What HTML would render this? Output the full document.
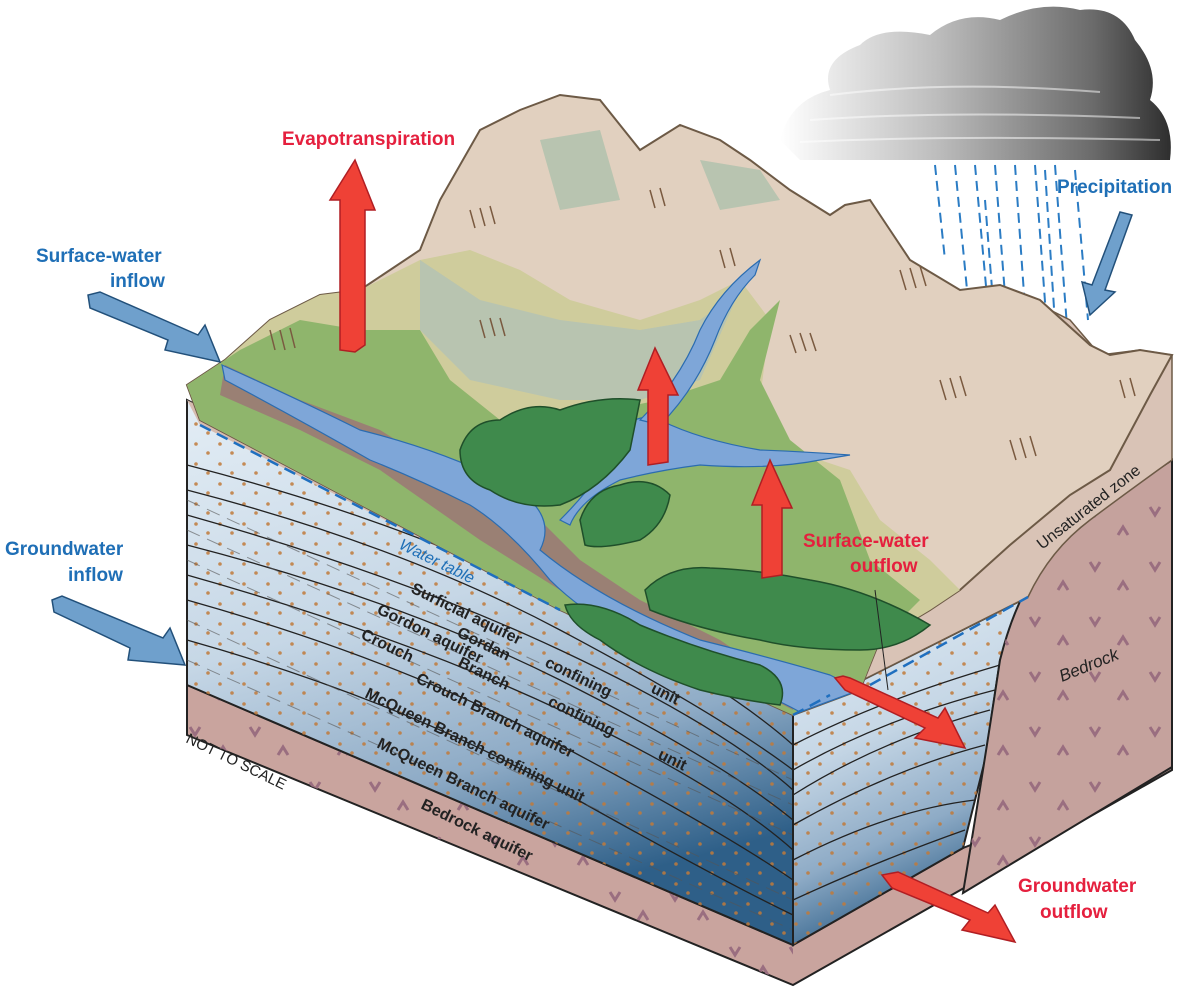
<!DOCTYPE html>
<html><head><meta charset="utf-8"><style>
html,body{margin:0;padding:0;background:#fff}
svg{display:block}
.l{font-family:"Liberation Sans Narrow","Liberation Sans",sans-serif;font-weight:bold;font-size:19px}
.k{font-family:"Liberation Sans Narrow","Liberation Sans",sans-serif;font-weight:bold;font-size:16px;fill:#222}
</style></head><body>
<svg width="1192" height="995" viewBox="0 0 1192 995">
<defs>
<linearGradient id="wat" x1="0" y1="0" x2="0.3" y2="1">
<stop offset="0" stop-color="#e3edf5"/><stop offset="0.45" stop-color="#c6d7e6"/><stop offset="0.75" stop-color="#8eabc6"/><stop offset="1" stop-color="#2e5f88"/></linearGradient>
<linearGradient id="cl" x1="0" y1="0" x2="1" y2="0">
<stop offset="0" stop-color="#fff"/><stop offset="0.4" stop-color="#bdbdbd"/><stop offset="0.8" stop-color="#6b6b6b"/><stop offset="1" stop-color="#2e2e2e"/></linearGradient>
<pattern id="dots" width="24" height="20" patternUnits="userSpaceOnUse">
<circle cx="4" cy="4" r="1.8" fill="#c07a3a"/><circle cx="16" cy="13" r="1.8" fill="#c07a3a"/></pattern>
<pattern id="v" width="60" height="55" patternUnits="userSpaceOnUse">
<path d="M10 12 l5 8 l5 -8" fill="none" stroke="#9a6e80" stroke-width="3"/><path d="M38 40 l5 -8 l5 8" fill="none" stroke="#9a6e80" stroke-width="3"/></pattern>
</defs>

<!-- cloud -->
<path d="M780 140 Q790 100 830 90 Q820 60 860 45 Q880 25 930 35 Q960 10 1000 20 Q1040 0 1080 10 Q1120 5 1135 40 Q1160 70 1150 100 Q1175 120 1170 160 L800 160 Z" fill="url(#cl)"/>
<g fill="none" stroke="#fff" stroke-width="2" opacity="0.5">
<path d="M830 95 Q950 80 1100 92"/><path d="M810 120 Q950 110 1140 118"/><path d="M800 142 Q950 135 1160 140"/>
</g>
<!-- rain -->
<g stroke="#2b7cc4" stroke-width="2" stroke-dasharray="10 6">
<line x1="935" y1="165" x2="945" y2="260"/><line x1="955" y1="165" x2="968" y2="300"/><line x1="975" y1="165" x2="990" y2="330"/><line x1="995" y1="165" x2="1010" y2="360"/><line x1="1015" y1="165" x2="1030" y2="380"/><line x1="1035" y1="165" x2="1050" y2="370"/><line x1="1055" y1="165" x2="1068" y2="340"/><line x1="1075" y1="170" x2="1088" y2="320"/><line x1="1045" y1="170" x2="1060" y2="400"/><line x1="985" y1="200" x2="1000" y2="390"/>
</g>

<!-- bottom bedrock layer -->
<polygon points="187,685 793,945 963,848 1172,767 1172,770 793,985 187,735" fill="#c9a49e" stroke="#222" stroke-width="2"/>
<polygon points="187,685 793,945 793,985 187,735" fill="url(#v)"/>
<!-- left face water -->
<polygon points="187,400 793,715 793,945 187,685" fill="url(#wat)" stroke="#222" stroke-width="2"/>
<polygon points="187,400 793,715 793,945 187,685" fill="url(#dots)" opacity="0.85"/>
<polygon points="187,400 793,715 560,610 200,425" fill="#d6bcb0"/>
<g fill="none" stroke="#222" stroke-width="1.3">
<path d="M187 465 Q400 520 560 600 T793 745"/>
<path d="M187 490 Q400 545 560 630 T793 770"/>
<path d="M187 515 Q400 575 560 650 T793 790"/>
<path d="M187 545 Q400 600 560 680 T793 820"/>
<path d="M187 575 Q400 635 560 710 T793 850"/>
<path d="M187 600 Q400 660 560 745 T793 880"/>
<path d="M187 640 Q400 700 560 790 T793 915"/>
</g>
<g stroke="#555" stroke-width="1" stroke-dasharray="14 8" opacity="0.6">
<path d="M187 500 L793 780"/><path d="M187 530 L793 805"/><path d="M187 560 L793 835"/><path d="M187 620 L793 900"/><path d="M187 660 L793 930"/>
</g>
<!-- right face -->
<polygon points="793,715 1028,597 1000,660 985,760 963,848 793,945" fill="url(#wat)" stroke="#222" stroke-width="2"/>
<polygon points="793,715 1028,597 1000,660 985,760 963,848 793,945" fill="url(#dots)" opacity="0.85"/>
<g fill="none" stroke="#222" stroke-width="1.3">
<path d="M793 745 Q880 700 1000 665"/><path d="M793 770 Q880 720 995 690"/><path d="M793 795 Q880 740 990 710"/><path d="M793 825 Q890 770 985 745"/><path d="M793 860 Q890 810 975 800"/><path d="M793 900 Q880 860 965 830"/>
</g>
<path d="M963 893 Q985 760 1000 660 Q1020 580 1060 545 Q1110 500 1172 460 L1172 767 Z" fill="#c5a29d" stroke="#222" stroke-width="2"/>
<path d="M963 893 Q985 760 1000 660 Q1020 580 1060 545 Q1110 500 1172 460 L1172 767 Z" fill="url(#v)"/>
<path d="M793 715 L1028 597 Q1050 550 1090 520 Q1130 490 1172 460 L1172 355 L1140 350 L1100 355 L1070 320 L1010 290 L960 330 L900 400 L860 500 L830 600 Z" fill="#d9c3b6" stroke="#6d5a46" stroke-width="1.5"/>

<!-- landscape -->
<path d="M187 385 L225 360 L270 320 L320 295 L360 290 L420 250 L440 200 L480 130 L520 110 L560 95 L600 100 L640 150 L680 125 L720 140 L750 160 L790 190 L830 215 L845 205 L870 200 L910 260 L960 290 L1000 285 L1040 300 L1090 345 L1110 355 L1140 350 L1172 355 L1150 395 L1110 470 L1070 495 L1010 545 L960 590 L930 610 L880 640 L860 690 L793 715 L560 610 L200 420 Z" fill="#e1d0bf" stroke="#6d5a46" stroke-width="2"/>
<path d="M187 385 L225 360 L270 320 L320 295 L360 290 L420 260 L470 250 L520 270 L570 300 L640 320 L700 300 L740 280 L770 320 L760 400 L790 450 L850 470 L880 520 L930 560 L960 590 L930 610 L880 640 L860 690 L793 715 L560 610 L200 420 Z" fill="#cfcc9c"/>
<path d="M187 385 L240 350 L300 320 L360 330 L420 330 L450 380 L500 420 L560 430 L610 410 L660 400 L720 380 L750 330 L780 300 L760 380 L790 440 L840 480 L870 560 L920 600 L880 640 L860 690 L793 715 L560 610 L200 420 Z" fill="#8fb56c"/>
<path d="M420 260 L480 300 L560 320 L640 330 L700 320 L740 290 L700 380 L640 400 L560 400 L470 380 L420 330 Z" fill="#b8c4b0"/>
<path d="M540 140 L600 130 L620 200 L560 210 Z M700 160 L760 170 L780 200 L720 210 Z" fill="#b8c4b0"/>
<path d="M225 365 L300 400 L380 430 L460 480 L540 520 L580 560 L640 600 L720 640 L793 690 L793 710 L640 630 L560 590 L480 540 L380 470 L300 430 L220 395 Z" fill="#9a8074"/>
<path d="M222 365 Q300 400 360 430 Q440 450 500 480 Q560 510 540 550 Q600 600 700 640 Q780 660 830 675 L860 690 L800 712 Q760 690 700 670 Q600 630 550 580 Q510 530 470 505 Q420 480 370 460 Q300 420 225 380 Z" fill="#7ea6d8" stroke="#2b6cb0" stroke-width="1.2"/>
<path d="M560 520 Q600 480 620 440 Q630 410 660 420 Q700 440 760 450 Q810 452 850 455 L820 460 Q770 470 700 465 Q660 470 620 480 Q580 500 570 525 Z" fill="#7ea6d8" stroke="#2b6cb0" stroke-width="1.2"/>
<path d="M640 420 Q680 380 700 330 Q720 290 760 260 L755 275 Q730 300 715 340 Q695 390 660 425 Z" fill="#7ea6d8" stroke="#2b6cb0" stroke-width="1.2"/>
<g fill="#3f8a4c" stroke="#1f4f2a" stroke-width="1.5">
<path d="M460 450 Q470 420 500 420 Q530 400 560 410 Q600 395 640 400 L630 450 Q600 490 560 505 Q520 510 490 490 Q460 480 460 450 Z"/>
<path d="M580 520 Q590 490 620 485 Q650 475 670 495 Q665 525 640 540 Q600 550 585 545 Z"/>
<path d="M645 590 Q670 565 710 568 Q760 570 810 580 Q870 590 930 625 Q900 650 860 650 Q800 650 760 640 Q700 630 650 610 Z"/>
<path d="M565 605 Q600 600 640 625 Q700 650 760 665 Q790 680 780 705 Q740 700 700 690 Q640 670 600 640 Q570 625 565 605 Z"/>
</g>
<g stroke="#7a5a40" stroke-width="1.5">
<path d="M270 330 l5 20 M280 330 l5 20 M290 328 l5 20 M480 320 l5 18 M490 318 l5 18 M500 318 l5 18 M790 335 l6 18 M800 333 l6 18 M810 333 l6 18 M940 380 l6 20 M950 378 l6 20 M960 376 l6 20 M1010 440 l6 20 M1020 438 l6 20 M1030 436 l6 20 M900 270 l6 20 M910 268 l6 20 M920 266 l6 20 M720 250 l5 18 M730 248 l5 18 M1120 380 l5 18 M1130 378 l5 18 M470 210 l5 18 M480 208 l5 18 M490 206 l5 18 M650 190 l5 18 M660 188 l5 18"/>
</g>
<g fill="none" stroke="#1f6fbf" stroke-width="2.5" stroke-dasharray="12 7">
<path d="M200 425 L560 610"/><path d="M793 715 L830 695"/><path d="M870 685 L1028 597"/>
</g>
<line x1="875" y1="590" x2="888" y2="690" stroke="#222" stroke-width="1"/>

<g fill="#ef4136" stroke="#b01e23" stroke-width="1.5">
<polygon points="340,350 340,200 330,200 355,160 375,210 365,210 365,345 355,352"/>
<polygon points="648,465 648,390 638,390 655,348 678,395 668,395 668,462"/>
<polygon points="762,578 762,505 752,505 770,460 792,508 782,508 782,575"/>
<polygon points="835,678 845,690 925,728 915,738 965,748 945,708 938,718 850,678 843,676"/>
<polygon points="882,875 892,888 970,920 962,930 1015,942 995,905 988,913 898,872"/>
</g>
<g fill="#6fa0cc" stroke="#22507a" stroke-width="1.5">
<polygon points="88,295 90,308 168,340 165,350 220,362 205,325 198,335 100,292"/>
<polygon points="52,600 54,612 130,648 128,660 185,665 170,628 163,638 62,596"/>
<polygon points="1120,212 1132,215 1105,290 1115,292 1090,315 1082,282 1092,285"/>
</g>

<g class="l">
<text x="282" y="145" fill="#e5203e">Evapotranspiration</text>
<text x="1057" y="193" fill="#1f6fb6">Precipitation</text>
<text x="36" y="262" fill="#1f6fb6">Surface-water</text>
<text x="110" y="287" fill="#1f6fb6">inflow</text>
<text x="5" y="555" fill="#1f6fb6">Groundwater</text>
<text x="68" y="581" fill="#1f6fb6">inflow</text>
<text x="803" y="547" fill="#e5203e">Surface-water</text>
<text x="850" y="572" fill="#e5203e">outflow</text>
<text x="1018" y="892" fill="#e5203e">Groundwater</text>
<text x="1040" y="918" fill="#e5203e">outflow</text>
</g>
<g class="k">
<text transform="translate(398,548) rotate(26)" style="font-weight:normal;font-style:italic;fill:#1f6fb6">Water table</text>
<text transform="translate(410,592) rotate(26)">Surficial aquifer</text>
<text transform="translate(376,613) rotate(26)">Gordon aquifer</text>
<text transform="translate(456,636) rotate(26)">Gordan</text>
<text transform="translate(544,666) rotate(26)">confining</text>
<text transform="translate(650,692) rotate(26)">unit</text>
<text transform="translate(360,638) rotate(26)">Crouch</text>
<text transform="translate(457,666) rotate(26)">Branch</text>
<text transform="translate(547,705) rotate(26)">confining</text>
<text transform="translate(657,758) rotate(26)">unit</text>
<text transform="translate(415,682) rotate(26)">Crouch Branch aquifer</text>
<text transform="translate(364,697) rotate(26)">McQueen Branch confining unit</text>
<text transform="translate(376,747) rotate(26)">McQueen Branch aquifer</text>
<text transform="translate(420,808) rotate(26)">Bedrock aquifer</text>
<text transform="translate(185,742) rotate(26)" style="font-weight:normal;font-size:15px">NOT TO SCALE</text>
<text transform="translate(1042,550) rotate(-38)" style="font-weight:normal;font-size:16px">Unsaturated zone</text>
<text transform="translate(1062,682) rotate(-22)" style="font-weight:normal;font-style:italic;font-size:17px">Bedrock</text>
</g>
</svg>
</body></html>
